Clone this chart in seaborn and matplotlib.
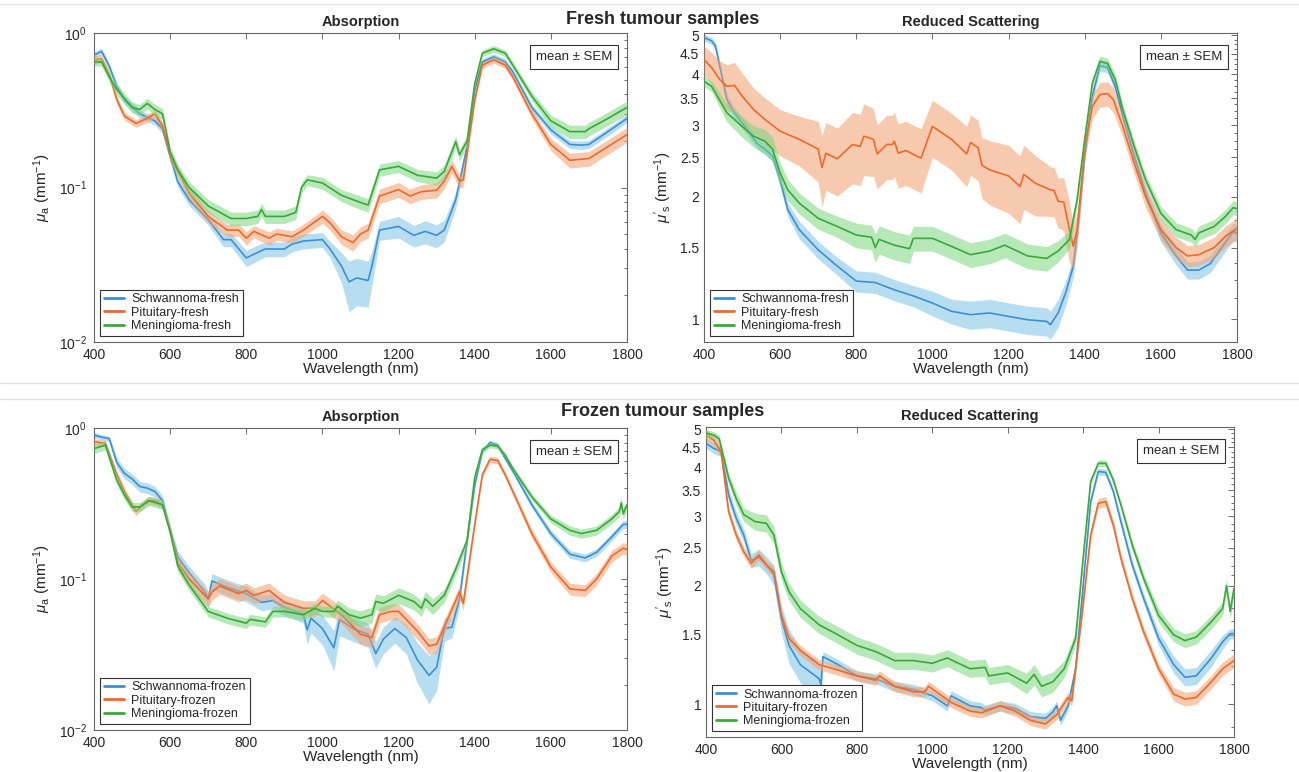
import numpy as np
import matplotlib
matplotlib.use("Agg")
import matplotlib.pyplot as plt
import seaborn as sns
from matplotlib.lines import Line2D
from matplotlib.ticker import FixedLocator, FixedFormatter, NullFormatter, LogLocator

# ---- data: wavelength (nm), mean, SEM (% of mean) ----
labels_fresh = ["Schwannoma-fresh", "Pituitary-fresh", "Meningioma-fresh"]
labels_frozen = ["Schwannoma-frozen", "Pituitary-frozen", "Meningioma-frozen"]

# fresh, absorption (mm^-1)
fresh_abs_schw_wl = [400, 420, 440, 460, 480, 520, 560, 580, 600, 620, 650, 700, 740, 760, 800, 820, 850, 900, 920, 950,
                     1000, 1020, 1050, 1070, 1090, 1120, 1130, 1150, 1200, 1240, 1270, 1300, 1320, 1350, 1380, 1400,
                     1420, 1450, 1480, 1500, 1550, 1600, 1650, 1680, 1700, 1750, 1800]
fresh_abs_schw = [0.72, 0.76, 0.61, 0.45, 0.37, 0.30, 0.27, 0.24, 0.16, 0.109, 0.083, 0.062, 0.046, 0.046, 0.035, 0.037,
                  0.040, 0.040, 0.043, 0.045, 0.046, 0.040, 0.031, 0.0245, 0.026, 0.025, 0.031, 0.053, 0.056, 0.049,
                  0.052, 0.049, 0.053, 0.083, 0.184, 0.43, 0.65, 0.70, 0.65, 0.56, 0.33, 0.236, 0.19, 0.188, 0.19,
                  0.23, 0.28]
fresh_abs_schw_sem = [5, 5, 5, 6, 6, 6, 6, 7, 8, 8, 8, 8, 10, 10, 12, 12, 11, 11, 11, 11, 11, 12, 22, 36, 34, 33, 25,
                      14, 16, 16, 17, 17, 16, 12, 8, 5, 5, 5, 5, 5, 5, 6, 6, 6, 6, 6, 6]

fresh_abs_pit_wl = [400, 420, 440, 460, 480, 510, 540, 560, 580, 600, 650, 700, 750, 780, 800, 820, 860, 880, 920, 950,
                    1000, 1020, 1050, 1080, 1100, 1120, 1150, 1200, 1230, 1260, 1300, 1320, 1340, 1360, 1370, 1400,
                    1420, 1450, 1480, 1500, 1550, 1600, 1650, 1700, 1750, 1800]
fresh_abs_pit = [0.67, 0.68, 0.54, 0.37, 0.29, 0.26, 0.28, 0.30, 0.25, 0.16, 0.092, 0.065, 0.053, 0.053, 0.047, 0.052,
                 0.047, 0.050, 0.048, 0.053, 0.065, 0.059, 0.048, 0.044, 0.050, 0.053, 0.088, 0.097, 0.088, 0.094,
                 0.096, 0.11, 0.137, 0.11, 0.112, 0.37, 0.62, 0.67, 0.62, 0.52, 0.30, 0.19, 0.15, 0.154, 0.184, 0.22]
fresh_abs_pit_sem = [6, 6, 6, 6, 6, 6, 6, 6, 7, 8, 9, 9, 9, 9, 10, 9, 10, 9, 9, 9, 10, 10, 11, 12, 11, 11, 11, 11, 11,
                     11, 11, 11, 10, 10, 10, 6, 5, 5, 5, 5, 7, 9, 11, 11, 11, 11]

fresh_abs_men_wl = [400, 420, 440, 460, 500, 520, 540, 560, 580, 600, 620, 650, 700, 750, 760, 800, 830, 840, 850, 900,
                    930, 945, 960, 1000, 1050, 1100, 1120, 1150, 1200, 1250, 1300, 1320, 1350, 1360, 1380, 1400, 1420,
                    1450, 1480, 1500, 1550, 1600, 1650, 1690, 1700, 1750, 1800]
fresh_abs_men = [0.65, 0.65, 0.52, 0.43, 0.33, 0.32, 0.35, 0.32, 0.30, 0.17, 0.13, 0.10, 0.076, 0.065, 0.063, 0.063,
                 0.065, 0.072, 0.065, 0.065, 0.069, 0.10, 0.112, 0.107, 0.089, 0.080, 0.077, 0.13, 0.137, 0.12, 0.115,
                 0.127, 0.198, 0.163, 0.20, 0.47, 0.74, 0.79, 0.74, 0.62, 0.39, 0.27, 0.23, 0.23, 0.24, 0.28, 0.33]
fresh_abs_men_sem = [6, 6, 7, 8, 8, 8, 8, 8, 8, 8, 8, 9, 10, 10, 10, 10, 10, 10, 10, 10, 10, 8, 8, 9, 9, 10, 10, 9, 9,
                     9, 10, 10, 9, 9, 8, 6, 5, 5, 5, 5, 7, 9, 10, 10, 10, 10, 10]

# fresh, reduced scattering (mm^-1)
fresh_sct_schw_wl = [400, 420, 430, 445, 460, 480, 500, 520, 540, 560, 580, 600, 620, 650, 700, 750, 800, 850, 900, 950,
                     1000, 1050, 1100, 1150, 1200, 1250, 1300, 1310, 1330, 1350, 1370, 1385, 1400, 1420, 1440, 1460,
                     1480, 1500, 1530, 1560, 1600, 1640, 1670, 1700, 1730, 1760, 1790, 1800]
fresh_sct_schw = [4.93, 4.84, 4.70, 4.04, 3.47, 3.22, 3.04, 2.87, 2.70, 2.62, 2.52, 2.20, 1.86, 1.66, 1.48, 1.35, 1.24,
                  1.23, 1.18, 1.14, 1.095, 1.045, 1.025, 1.035, 1.015, 0.996, 0.987, 0.968, 1.035, 1.16, 1.35, 1.79,
                  2.52, 3.54, 4.20, 4.16, 3.74, 3.16, 2.52, 2.04, 1.63, 1.43, 1.32, 1.32, 1.37, 1.50, 1.64, 1.63]
fresh_sct_schw_sem = [2, 2, 2, 3, 3, 3, 3, 3, 3, 3, 3, 4, 4, 5, 5, 5, 6, 6, 6, 6, 7, 7, 8, 8, 8, 8, 8, 8, 8, 7, 6, 5,
                      4, 3, 3, 3, 3, 3, 4, 4, 5, 5, 5, 5, 5, 5, 5, 5]

fresh_sct_pit_wl = [400, 420, 440, 460, 480, 500, 530, 560, 600, 650, 700, 710, 720, 750, 790, 810, 820, 845, 855, 880,
                    895, 900, 910, 930, 970, 1000, 1050, 1090, 1100, 1120, 1130, 1150, 1200, 1230, 1240, 1270, 1310,
                    1320, 1330, 1345, 1360, 1370, 1380, 1390, 1400, 1420, 1440, 1460, 1475, 1500, 1530, 1560, 1600,
                    1640, 1670, 1700, 1740, 1770, 1800]
fresh_sct_pit = [4.35, 4.16, 3.90, 3.74, 3.76, 3.54, 3.28, 3.10, 2.90, 2.77, 2.62, 2.36, 2.56, 2.48, 2.69, 2.66, 2.82,
                 2.77, 2.55, 2.69, 2.69, 2.74, 2.56, 2.60, 2.49, 2.98, 2.77, 2.55, 2.72, 2.64, 2.39, 2.33, 2.25, 2.12,
                 2.27, 2.16, 2.08, 2.07, 1.95, 1.94, 1.66, 1.51, 1.66, 2.08, 2.66, 3.34, 3.57, 3.59, 3.47, 2.98, 2.42,
                 2.00, 1.66, 1.50, 1.43, 1.44, 1.50, 1.60, 1.67]
fresh_sct_pit_sem = [8, 9, 11, 13, 14, 14, 13, 13, 13, 14, 17, 20, 19, 19, 20, 20, 20, 19, 18, 18, 18, 18, 18, 18, 18,
                     16, 16, 17, 17, 17, 17, 18, 19, 19, 18, 17, 14, 14, 14, 15, 17, 12, 10, 8, 7, 7, 7, 7, 7, 6, 6,
                     6, 6, 6, 6, 6, 6, 6, 6]

fresh_sct_men_wl = [400, 420, 440, 460, 500, 530, 560, 580, 600, 620, 650, 700, 750, 800, 840, 850, 860, 900, 940, 950,
                    1000, 1050, 1100, 1150, 1190, 1250, 1300, 1330, 1360, 1380, 1400, 1420, 1440, 1460, 1480, 1500,
                    1530, 1560, 1600, 1640, 1680, 1690, 1700, 1740, 1770, 1790, 1800]
fresh_sct_men = [3.85, 3.74, 3.47, 3.22, 2.98, 2.82, 2.74, 2.62, 2.29, 2.08, 1.93, 1.77, 1.69, 1.61, 1.59, 1.50, 1.57,
                 1.52, 1.49, 1.58, 1.58, 1.51, 1.44, 1.47, 1.52, 1.43, 1.41, 1.47, 1.57, 1.97, 2.77, 3.81, 4.31, 4.26,
                 3.89, 3.28, 2.66, 2.20, 1.82, 1.66, 1.61, 1.57, 1.63, 1.69, 1.79, 1.88, 1.87]
fresh_sct_men_sem = [3, 3, 4, 5, 6, 6, 7, 7, 6, 6, 6, 6, 6, 7, 7, 8, 8, 8, 8, 7, 7, 7, 7, 7, 7, 7, 7, 6, 5, 4, 3, 3,
                     3, 3, 3, 3, 3, 3, 4, 4, 4, 4, 4, 4, 4, 4, 4]

# frozen, absorption (mm^-1)
frozen_abs_schw_wl = [400, 420, 440, 460, 480, 500, 520, 540, 560, 580, 600, 620, 650, 690, 700, 710, 750, 800, 840,
                      870, 900, 950, 960, 970, 1000, 1030, 1045, 1080, 1120, 1140, 1160, 1190, 1220, 1250, 1280, 1300,
                      1320, 1340, 1360, 1380, 1400, 1420, 1440, 1460, 1480, 1500, 1550, 1600, 1650, 1690, 1720, 1760,
                      1790, 1800]
frozen_abs_schw = [0.90, 0.87, 0.85, 0.59, 0.50, 0.46, 0.41, 0.40, 0.38, 0.33, 0.21, 0.14, 0.11, 0.083, 0.074, 0.097,
                   0.088, 0.080, 0.070, 0.072, 0.065, 0.058, 0.046, 0.055, 0.047, 0.035, 0.054, 0.047, 0.043, 0.032,
                   0.040, 0.047, 0.041, 0.029, 0.023, 0.026, 0.047, 0.048, 0.074, 0.18, 0.42, 0.70, 0.80, 0.77, 0.63,
                   0.52, 0.31, 0.20, 0.146, 0.138, 0.15, 0.19, 0.23, 0.23]
frozen_abs_schw_sem = [4, 4, 4, 8, 8, 8, 8, 8, 8, 8, 9, 10, 10, 12, 12, 12, 12, 12, 12, 12, 12, 12, 20, 20, 22, 30, 22,
                       18, 18, 20, 20, 20, 22, 30, 35, 30, 18, 15, 12, 8, 5, 4, 4, 4, 4, 4, 5, 6, 6, 6, 6, 6, 6, 6]

frozen_abs_pit_wl = [400, 430, 460, 480, 510, 540, 560, 580, 600, 620, 650, 700, 710, 730, 780, 800, 820, 860, 900, 950,
                     980, 1000, 1050, 1100, 1130, 1150, 1180, 1200, 1250, 1280, 1300, 1330, 1360, 1370, 1400, 1420,
                     1440, 1460, 1480, 1500, 1550, 1600, 1650, 1690, 1720, 1760, 1790, 1800]
frozen_abs_pit = [0.81, 0.79, 0.49, 0.38, 0.28, 0.33, 0.33, 0.31, 0.21, 0.128, 0.10, 0.074, 0.082, 0.090, 0.080, 0.084,
                  0.078, 0.084, 0.070, 0.064, 0.064, 0.072, 0.058, 0.043, 0.041, 0.058, 0.061, 0.061, 0.045, 0.036,
                  0.037, 0.055, 0.082, 0.069, 0.23, 0.49, 0.62, 0.61, 0.49, 0.38, 0.20, 0.12, 0.086, 0.084, 0.10,
                  0.142, 0.16, 0.157]
frozen_abs_pit_sem = [5, 5, 6, 6, 6, 6, 6, 6, 6, 10, 11, 12, 12, 12, 12, 12, 12, 12, 12, 12, 12, 12, 13, 14, 14, 12,
                      12, 12, 12, 12, 12, 11, 10, 10, 6, 5, 5, 5, 5, 5, 7, 8, 9, 9, 9, 9, 9, 9]

frozen_abs_men_wl = [400, 430, 460, 480, 500, 520, 545, 580, 600, 620, 650, 700, 750, 800, 810, 850, 870, 900, 950, 980,
                     1000, 1030, 1040, 1070, 1100, 1130, 1140, 1160, 1200, 1240, 1260, 1270, 1290, 1320, 1350, 1380,
                     1400, 1420, 1440, 1460, 1480, 1500, 1550, 1600, 1650, 1680, 1720, 1760, 1780, 1785, 1790, 1800]
frozen_abs_men = [0.73, 0.77, 0.45, 0.36, 0.30, 0.30, 0.33, 0.31, 0.205, 0.122, 0.091, 0.061, 0.055, 0.051, 0.054,
                  0.052, 0.061, 0.061, 0.058, 0.064, 0.061, 0.061, 0.066, 0.058, 0.055, 0.058, 0.071, 0.069, 0.078,
                  0.071, 0.064, 0.074, 0.066, 0.078, 0.116, 0.18, 0.47, 0.72, 0.77, 0.76, 0.66, 0.54, 0.35, 0.25,
                  0.21, 0.20, 0.21, 0.25, 0.28, 0.32, 0.27, 0.31]
frozen_abs_men_sem = [7, 7, 7, 7, 7, 7, 7, 7, 7, 8, 8, 8, 8, 8, 8, 8, 8, 8, 8, 8, 8, 9, 10, 11, 12, 12, 12, 12, 12, 12,
                      12, 12, 12, 10, 9, 8, 5, 4, 4, 4, 4, 4, 5, 6, 7, 7, 7, 7, 8, 8, 8, 8]

# frozen, reduced scattering (mm^-1)
frozen_sct_schw_wl = [400, 420, 440, 460, 480, 500, 520, 540, 560, 580, 600, 620, 650, 700, 705, 710, 750, 800, 850,
                      900, 950, 1000, 1040, 1050, 1100, 1130, 1140, 1180, 1220, 1260, 1300, 1320, 1330, 1340, 1360,
                      1380, 1400, 1420, 1440, 1460, 1480, 1500, 1530, 1560, 1600, 1640, 1670, 1700, 1740, 1770, 1790,
                      1800]
frozen_sct_schw = [4.60, 4.47, 4.38, 3.40, 2.97, 2.69, 2.32, 2.36, 2.26, 2.13, 1.65, 1.41, 1.26, 1.16, 1.12, 1.32, 1.26,
                   1.18, 1.16, 1.11, 1.09, 1.05, 0.99, 1.05, 0.99, 0.98, 0.965, 0.99, 0.975, 0.93, 0.92, 0.956, 0.99,
                   0.91, 0.99, 1.23, 2.00, 3.27, 3.90, 3.88, 3.47, 2.91, 2.26, 1.86, 1.47, 1.26, 1.17, 1.18, 1.31,
                   1.44, 1.51, 1.51]
frozen_sct_schw_sem = [3, 3, 3, 4, 4, 4, 4, 5, 5, 6, 8, 10, 10, 10, 10, 3, 3, 3, 3, 3, 3, 3, 3, 3, 3, 3, 3, 3, 3, 3, 3,
                       3, 3, 3, 3, 3, 2, 2, 2, 2, 2, 3, 3, 3, 4, 5, 5, 5, 5, 4, 3, 3]

frozen_sct_pit_wl = [400, 420, 440, 460, 480, 500, 520, 540, 560, 580, 600, 620, 650, 700, 750, 800, 850, 860, 900, 950,
                     980, 990, 1050, 1100, 1130, 1180, 1220, 1260, 1300, 1330, 1360, 1370, 1400, 1420, 1440, 1460,
                     1480, 1500, 1530, 1560, 1600, 1640, 1670, 1700, 1740, 1770, 1800]
frozen_sct_pit = [4.83, 4.69, 4.38, 3.08, 2.69, 2.44, 2.28, 2.39, 2.26, 2.17, 1.68, 1.47, 1.37, 1.26, 1.22, 1.18, 1.15,
                  1.18, 1.11, 1.075, 1.075, 1.11, 1.01, 0.96, 0.95, 0.99, 0.96, 0.91, 0.89, 0.94, 1.04, 1.02, 1.79,
                  2.69, 3.24, 3.27, 2.85, 2.35, 1.86, 1.53, 1.23, 1.06, 1.03, 1.04, 1.14, 1.23, 1.29]
frozen_sct_pit_sem = [3, 3, 3, 3, 3, 3, 3, 3, 3, 3, 3, 3, 3, 3, 3, 3, 3, 3, 3, 3, 3, 3, 3, 3, 3, 3, 3, 3, 3, 3, 3, 3,
                      3, 3, 3, 3, 3, 3, 3, 3, 3, 4, 4, 4, 4, 4, 4]

frozen_sct_men_wl = [400, 420, 435, 460, 480, 500, 530, 560, 580, 600, 620, 650, 700, 750, 800, 850, 900, 950, 1000,
                     1040, 1100, 1140, 1150, 1200, 1250, 1270, 1290, 1320, 1350, 1380, 1400, 1420, 1440, 1460, 1480,
                     1500, 1530, 1560, 1600, 1640, 1670, 1700, 1740, 1770, 1780, 1790, 1800]
frozen_sct_men = [4.88, 4.83, 4.72, 3.75, 3.33, 3.03, 2.91, 2.88, 2.69, 2.17, 1.93, 1.75, 1.59, 1.50, 1.41, 1.36, 1.29,
                  1.29, 1.27, 1.31, 1.23, 1.24, 1.18, 1.20, 1.13, 1.19, 1.11, 1.14, 1.23, 1.47, 2.35, 3.68, 4.09, 4.09,
                  3.71, 3.21, 2.54, 2.09, 1.68, 1.50, 1.45, 1.48, 1.62, 1.75, 2.00, 1.72, 1.97]
frozen_sct_men_sem = [2, 2, 2, 3, 4, 4, 5, 5, 5, 5, 5, 5, 5, 5, 5, 5, 5, 5, 5, 5, 5, 5, 5, 5, 6, 6, 6, 6, 5, 4, 3, 2,
                      2, 2, 2, 2, 3, 3, 4, 4, 4, 4, 4, 4, 4, 4, 4]

line_colors = ["#3d8fd3", "#ee6a2a", "#3aa83a"]
band_colors = ["#7cc4e4", "#f2a070", "#7cd67c"]

# ---- style ----
sns.set_theme(style="white")
plt.rcParams["font.family"] = ["Liberation Sans", "DejaVu Sans"]
plt.rcParams["mathtext.fontset"] = "custom"
plt.rcParams["mathtext.rm"] = "Liberation Sans"
plt.rcParams["mathtext.it"] = "Liberation Sans:italic"
plt.rcParams["mathtext.bf"] = "Liberation Sans:bold"

fig = plt.figure(figsize=(12.99, 7.72), dpi=100)
fig.patch.set_facecolor("white")

# separator lines between the two blocks
for yy in [1 - 4 / 772, 1 - 383 / 772, 1 - 399 / 772]:
    fig.add_artist(Line2D([0, 1], [yy, yy], transform=fig.transFigure, color="#e4e4e4", lw=1))

fig.text(0.51, 1 - 20 / 772, "Fresh tumour samples", ha="center", va="center", fontsize=13, fontweight="bold")
fig.text(0.51, 1 - 412 / 772, "Frozen tumour samples", ha="center", va="center", fontsize=13, fontweight="bold")

panels = [
    # rect, title, kind, labels, curves, ylim
    ([94 / 1299, 1 - 342 / 772, 533 / 1299, 309 / 772], "Absorption", "abs", labels_fresh,
     [(fresh_abs_schw_wl, fresh_abs_schw, fresh_abs_schw_sem),
      (fresh_abs_pit_wl, fresh_abs_pit, fresh_abs_pit_sem),
      (fresh_abs_men_wl, fresh_abs_men, fresh_abs_men_sem)], (0.01, 1.0)),
    ([704 / 1299, 1 - 342 / 772, 533 / 1299, 309 / 772], "Reduced Scattering", "sct", labels_fresh,
     [(fresh_sct_schw_wl, fresh_sct_schw, fresh_sct_schw_sem),
      (fresh_sct_pit_wl, fresh_sct_pit, fresh_sct_pit_sem),
      (fresh_sct_men_wl, fresh_sct_men, fresh_sct_men_sem)], (0.878, 5.06)),
    ([94 / 1299, 1 - 730 / 772, 533 / 1299, 302 / 772], "Absorption", "abs", labels_frozen,
     [(frozen_abs_schw_wl, frozen_abs_schw, frozen_abs_schw_sem),
      (frozen_abs_pit_wl, frozen_abs_pit, frozen_abs_pit_sem),
      (frozen_abs_men_wl, frozen_abs_men, frozen_abs_men_sem)], (0.01, 1.0)),
    ([706 / 1299, 1 - 737 / 772, 528 / 1299, 310 / 772], "Reduced Scattering", "sct", labels_frozen,
     [(frozen_sct_schw_wl, frozen_sct_schw, frozen_sct_schw_sem),
      (frozen_sct_pit_wl, frozen_sct_pit, frozen_sct_pit_sem),
      (frozen_sct_men_wl, frozen_sct_men, frozen_sct_men_sem)], (0.825, 5.06)),
]

for rect, title, kind, labels, curves, ylim in panels:
    ax = fig.add_axes(rect)
    for i, ((wl, m, sem), lab) in enumerate(zip(curves, labels)):
        wl = np.asarray(wl, float)
        m = np.asarray(m, float)
        s = m * np.asarray(sem, float) / 100.0
        ax.fill_between(wl, m - s, m + s, color=band_colors[i], alpha=0.55, lw=0, zorder=2 + 2 * i)
        sns.lineplot(x=wl, y=m, ax=ax, color=line_colors[i], lw=1.2, label=lab, zorder=3 + 2 * i)

    ax.set_yscale("log")
    ax.set_xlim(400, 1800)
    ax.set_ylim(*ylim)
    ax.set_xticks(range(400, 1801, 200))
    if kind == "abs":
        ax.yaxis.set_major_locator(FixedLocator([0.01, 0.1, 1.0]))
        ax.yaxis.set_minor_locator(LogLocator(base=10, subs=np.arange(2, 10)))
        ax.set_ylabel(r"$\mu_{\mathrm{a}}$ (mm$^{-1}$)", fontsize=11, color="#262626")
        ypad = 5
    else:
        yt = [1, 1.5, 2, 2.5, 3, 3.5, 4, 4.5, 5]
        ax.yaxis.set_major_locator(FixedLocator(yt))
        ax.yaxis.set_major_formatter(FixedFormatter(["1", "1.5", "2", "2.5", "3", "3.5", "4", "4.5", "5"]))
        ax.yaxis.set_minor_locator(FixedLocator(np.arange(0.875, 5.06, 0.125)))
        ax.set_ylabel(r"$\mu'_{\mathrm{s}}$ (mm$^{-1}$)", fontsize=11, color="#262626")
        ypad = 3.5
    ax.yaxis.set_minor_formatter(NullFormatter())
    ax.set_xlabel("Wavelength (nm)", fontsize=11, color="#262626", labelpad=0)
    ax.set_title(title, fontsize=10.5, fontweight="bold", pad=5)

    ax.tick_params(which="both", direction="in", top=True, right=True, colors="#555555",
                   labelcolor="#262626", labelsize=10, width=0.6)
    ax.tick_params(which="major", length=4)
    ax.tick_params(which="minor", length=2.5)
    ax.tick_params(axis="x", pad=4.5)
    ax.tick_params(axis="y", pad=ypad)
    for sp in ax.spines.values():
        sp.set_color("#666666")
        sp.set_linewidth(0.8)

    leg = ax.legend(loc="lower left", frameon=True, fancybox=False, edgecolor="#333333", framealpha=1,
                    fontsize=9, handlelength=1.6, borderpad=0.3, labelspacing=0.1, handletextpad=0.6,
                    borderaxespad=0.5)
    leg.get_frame().set_linewidth(0.8)
    for ln in leg.get_lines():
        ln.set_linewidth(2)

    ax.text(0.972, 0.922, "mean \u00b1 SEM", transform=ax.transAxes, ha="right", va="center", fontsize=9.5,
            color="#262626", zorder=20,
            bbox=dict(boxstyle="square,pad=0.45", fc="white", ec="#333333", lw=0.8))

fig.savefig("out.png", dpi=100, facecolor="white")
